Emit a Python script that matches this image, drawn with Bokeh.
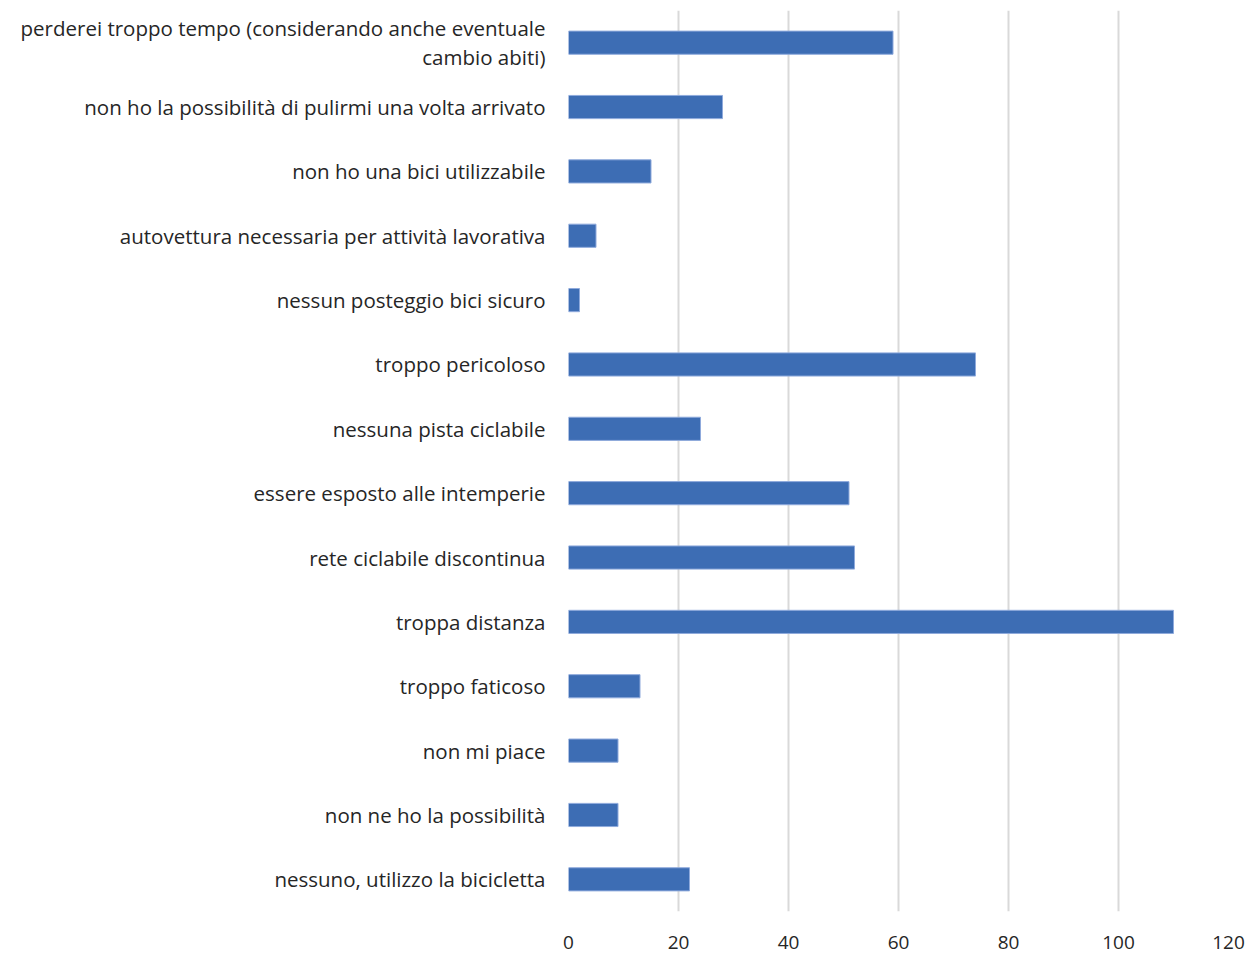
from bokeh.plotting import figure
from bokeh.models import FactorRange, FixedTicker
from bokeh.embed import file_html
from bokeh.resources import INLINE

categories = [
    "perderei troppo tempo (considerando anche eventuale\ncambio abiti)",
    "non ho la possibilità di pulirmi una volta arrivato",
    "non ho una bici utilizzabile",
    "autovettura necessaria per attività lavorativa",
    "nessun posteggio bici sicuro",
    "troppo pericoloso",
    "nessuna pista ciclabile",
    "essere esposto alle intemperie",
    "rete ciclabile discontinua",
    "troppa distanza",
    "troppo faticoso",
    "non mi piace",
    "non ne ho la possibilità",
    "nessuno, utilizzo la bicicletta",
]
values = [59, 28, 15, 5, 2, 74, 24, 51, 52, 110, 13, 9, 9, 22]
x_ticks = [0, 20, 40, 60, 80, 100, 120]

FONT = "Open Sans"

p = figure(
    y_range=FactorRange(factors=list(reversed(categories)), range_padding=0),
    x_range=(0, 120),
    frame_width=660, frame_height=901,
    min_border_left=568, min_border_top=10, min_border_right=20, min_border_bottom=30,
    output_backend="svg", toolbar_location=None,
)
p.hbar(y=categories, right=values, left=0, height=0.36,
       fill_color="#3D6DB4", line_color="#8FAADC", line_width=1)

p.outline_line_color = None
p.ygrid.grid_line_color = None
p.xgrid.grid_line_color = "#D9D9D9"
p.xgrid.grid_line_width = 2
p.xaxis.ticker = FixedTicker(ticks=x_ticks)

for ax in (p.xaxis, p.yaxis):
    ax.axis_line_color = None
    ax.major_tick_line_color = None
    ax.minor_tick_line_color = None
    ax.major_label_text_font = FONT
    ax.major_label_text_color = "#262626"

p.yaxis.major_label_text_font_size = "20.5px"
p.yaxis.major_label_text_line_height = 1.05
p.xaxis.major_label_text_font_size = "19px"
p.yaxis.major_label_standoff = 17
p.xaxis.major_label_standoff = 18

open("out.html", "w").write(file_html(p, INLINE))
